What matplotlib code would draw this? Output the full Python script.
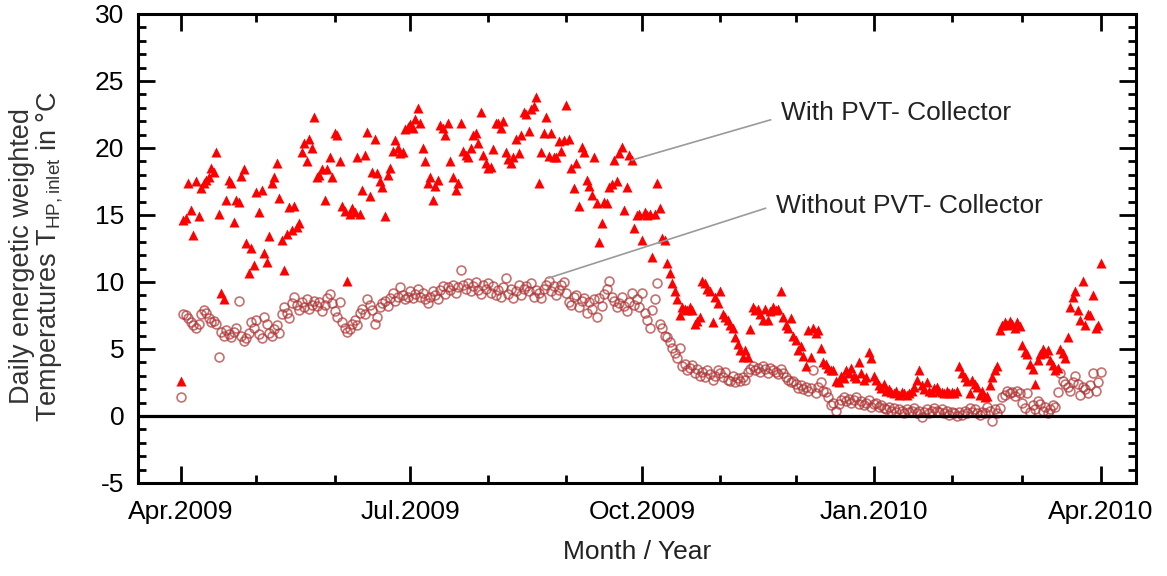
import numpy as np
import pandas as pd
import matplotlib
matplotlib.use("Agg")
import matplotlib.pyplot as plt
import matplotlib.dates as mdates
from matplotlib.ticker import MultipleLocator

plt.rcParams['font.family'] = ['Liberation Sans', 'DejaVu Sans']
plt.rcParams['axes.unicode_minus'] = False
plt.rcParams['mathtext.fontset'] = 'custom'
plt.rcParams['mathtext.rm'] = 'Liberation Sans'
plt.rcParams['mathtext.it'] = 'Liberation Sans'

# daily values, 1 Apr 2009 .. 1 Apr 2010
with_apr = [2.6, 14.6, 14.8, 17.4, 15.4, 13.5, 17.5, 14.9, 17.0, 17.4,
            17.6, 17.8, 18.5, 18.2, 19.7, 15.1, 9.2, 8.7, 16.1, 17.6,
            17.4, 14.5, 16.1, 16.0, 17.9, 18.4, 12.9, 10.7, 12.5, 11.3]
with_may = [16.7, 15.2, 16.9, 12.2, 11.5, 13.4, 17.4, 17.8, 18.9, 16.3,
            13.1, 10.9, 13.6, 15.6, 13.9, 15.7, 14.1, 14.4, 19.7, 20.4,
            19.0, 20.7, 20.0, 22.3, 17.8, 18.0, 18.4, 16.1, 18.4, 19.3, 17.8]
with_jun = [21.1, 21.0, 19.0, 15.7, 15.3, 10.1, 15.1, 15.5, 15.2, 19.3,
            15.1, 16.9, 19.5, 21.2, 16.4, 18.2, 20.7, 18.1, 17.5, 17.1,
            14.9, 18.0, 18.5, 19.8, 20.6, 20.0, 19.6, 19.7, 21.4, 21.6]
with_jul = [21.8, 21.5, 22.2, 23.0, 21.9, 20.0, 19.0, 17.4, 17.8, 16.1,
            17.2, 17.6, 21.7, 21.5, 21.0, 21.9, 19.0, 17.8, 16.9, 17.4,
            21.9, 19.8, 19.5, 19.3, 20.0, 21.0, 21.1, 20.4, 22.7, 19.5, 18.9]
with_aug = [18.5, 18.6, 19.9, 21.9, 21.9, 21.5, 22.0, 19.7, 19.2, 18.9,
            19.3, 20.7, 19.6, 21.0, 22.7, 22.5, 21.3, 22.9, 23.1, 23.8,
            17.4, 19.7, 21.1, 22.3, 19.4, 21.1, 19.3, 19.3, 20.5, 19.8, 20.6]
with_sep = [23.2, 20.7, 18.5, 17.0, 18.9, 15.7, 20.1, 19.7, 17.6, 17.2,
            16.5, 19.3, 15.9, 13.0, 14.4, 16.0, 15.9, 17.1, 17.3, 19.1,
            17.5, 19.6, 20.1, 15.4, 17.1, 19.5, 19.1, 14.0, 15.0, 15.1]
with_oct = [13.1, 15.2, 15.0, 15.1, 11.9, 15.1, 17.4, 15.5, 13.3, 13.1,
            11.4, 10.7, 9.9, 9.3, 8.7, 7.5, 8.1, 8.0, 7.9, 8.1,
            7.9, 6.9, 7.1, 7.4, 10.1, 9.9, 9.5, 9.3, 7.0, 8.9, 8.4]
with_nov = [9.3, 7.6, 7.4, 7.2, 6.8, 6.6, 5.9, 5.4, 4.9, 4.4,
            4.9, 4.4, 6.5, 8.1, 7.9, 8.0, 7.6, 7.2, 8.0, 7.2,
            7.8, 8.1, 7.9, 8.0, 9.3, 7.4, 6.8, 6.6, 7.3, 6.0]
with_dec = [5.7, 4.9, 5.2, 4.5, 3.7, 6.4, 4.4, 6.6, 6.2, 6.4,
            5.1, 4.0, 3.9, 3.6, 3.4, 3.4, 2.6, 2.5, 3.0, 2.8,
            3.4, 3.2, 3.6, 3.0, 2.8, 4.0, 3.2, 2.7, 2.9, 4.8, 4.3]
with_jan = [3.0, 2.7, 2.3, 2.1, 2.4, 1.9, 2.0, 1.8, 1.7, 1.9,
            1.6, 1.8, 1.7, 1.6, 1.7, 1.9, 2.2, 2.7, 3.4, 2.3,
            2.0, 2.5, 1.9, 1.8, 2.1, 2.2, 1.9, 1.8, 1.7, 1.9, 1.7]
with_feb = [1.8, 1.7, 1.9, 3.7, 3.2, 2.9, 2.6, 1.7, 2.7, 2.4,
            2.2, 1.6, 1.9, 1.4, 1.5, 2.3, 2.9, 3.4, 3.7, 6.4,
            6.8, 7.0, 6.8, 7.1, 6.9, 6.6, 7.0, 6.7]
with_mar = [5.3, 4.8, 4.6, 3.9, 3.5, 2.4, 4.2, 4.6, 5.0, 4.7,
            4.9, 4.2, 3.8, 3.4, 3.6, 5.0, 4.7, 4.3, 5.9, 8.1,
            8.9, 9.3, 7.9, 7.2, 10.1, 6.8, 7.6, 7.5, 9.0, 6.6, 6.8, 11.4]

without_apr = [1.4, 7.6, 7.5, 7.3, 7.0, 6.8, 6.6, 6.9, 7.6, 7.9,
               7.7, 7.3, 7.0, 7.1, 6.9, 4.4, 6.3, 6.0, 6.4, 6.1,
               5.9, 6.3, 6.6, 8.6, 6.0, 5.6, 5.8, 6.2, 7.0, 6.6]
without_may = [7.2, 6.1, 5.8, 7.4, 6.9, 6.2, 6.0, 6.5, 6.8, 6.2,
               7.6, 8.1, 7.7, 7.3, 8.4, 8.9, 8.3, 7.9, 8.5, 8.1,
               8.7, 8.0, 8.3, 8.6, 8.2, 8.5, 7.8, 8.3, 8.8, 9.1, 8.4]
without_jun = [7.8, 7.4, 8.5, 7.0, 6.6, 6.3, 6.5, 6.9, 7.2, 6.8,
               7.7, 8.0, 7.6, 8.7, 8.3, 7.9, 6.9, 7.4, 8.1, 8.4,
               8.6, 8.2, 8.8, 9.2, 8.6, 8.9, 9.6, 9.0, 8.7, 8.9]
without_jul = [9.3, 8.8, 9.1, 9.5, 8.9, 9.2, 8.7, 8.4, 8.9, 9.3,
               9.0, 8.7, 9.4, 9.7, 9.1, 9.6, 9.4, 9.8, 9.2, 9.6,
               10.9, 9.8, 9.5, 9.9, 9.3, 9.7, 10.0, 9.4, 9.1, 9.8, 9.5]
without_aug = [9.9, 9.2, 9.7, 9.0, 9.4, 8.9, 9.6, 10.3, 9.1, 9.5,
               8.8, 9.3, 9.8, 9.0, 9.5, 9.7, 9.3, 9.9, 8.9, 9.4,
               9.2, 8.8, 9.5, 9.8, 10.1, 9.3, 9.7, 9.0, 9.4, 9.8, 10.0]
without_sep = [9.2, 8.5, 8.3, 8.9, 9.0, 8.1, 8.6, 8.8, 7.7, 8.5,
               8.0, 8.7, 7.4, 8.8, 8.2, 9.1, 9.5, 10.1, 8.9, 8.6,
               8.1, 8.4, 8.9, 8.2, 7.8, 8.5, 9.2, 8.3, 8.7, 8.1]
without_oct = [9.2, 7.7, 7.2, 6.6, 7.9, 8.7, 9.9, 6.9, 6.6, 6.0,
               5.9, 5.5, 5.1, 4.7, 4.3, 5.1, 3.7, 3.9, 3.4, 3.6,
               3.8, 3.2, 3.5, 3.0, 3.3, 2.9, 3.4, 3.1, 2.7, 3.0, 3.4]
without_nov = [3.2, 2.9, 3.3, 2.7, 2.6, 3.0, 2.5, 2.8, 2.6, 2.9,
               2.7, 3.3, 3.5, 3.7, 3.4, 3.6, 3.3, 3.7, 3.5, 3.2,
               3.6, 3.4, 3.3, 3.1, 3.5, 3.2, 2.9, 2.7, 2.5, 2.6]
without_dec = [2.4, 2.1, 2.3, 2.0, 2.2, 1.9, 2.1, 3.4, 1.7, 2.2,
               2.5, 1.9, 1.8, 1.4, 0.8, 1.0, 0.4, 0.9, 1.2, 1.4,
               1.1, 1.3, 1.0, 1.2, 1.4, 0.9, 1.1, 0.8, 1.0, 1.2, 0.7]
without_jan = [0.9, 1.0, 0.7, 0.8, 0.6, 0.5, 0.7, 0.4, 0.6, 0.3,
               0.5, 0.4, 0.2, 0.5, 0.3, 0.4, 0.6, 0.2, 0.4, -0.1,
               0.3, 0.5, 0.2, 0.4, 0.6, 0.4, 0.3, 0.5, 0.2, 0.4, 0.1]
without_feb = [0.3, 0.2, 0.0, 0.3, 0.1, 0.4, 0.2, 0.6, 0.3, 0.5,
               0.2, 0.1, 0.3, 0.2, 0.7, 0.4, -0.4, 0.5, 0.2, 0.6,
               1.4, 1.6, 1.9, 1.7, 1.8, 1.5, 1.9, 1.7]
without_mar = [1.0, 0.6, 1.7, 0.3, 0.8, 0.5, 1.1, 0.9, 0.4, 0.7,
               0.2, 0.5, 0.8, 0.7, 1.8, 3.2, 2.6, 2.4, 2.2, 1.9,
               2.5, 3.0, 2.4, 1.6, 2.2, 2.0, 1.7, 2.3, 3.2, 1.9, 2.5, 3.3]

with_pvt = np.array(with_apr + with_may + with_jun + with_jul + with_aug + with_sep
                    + with_oct + with_nov + with_dec + with_jan + with_feb + with_mar)
without_pvt = np.array(without_apr + without_may + without_jun + without_jul + without_aug
                       + without_sep + without_oct + without_nov + without_dec
                       + without_jan + without_feb + without_mar)
days = pd.date_range("2009-04-01", periods=len(with_pvt), freq="D")

tick_dates = ["2009-04-01", "2009-07-01", "2009-10-01", "2010-01-01", "2010-04-01"]
tick_labels = ["Apr.2009", "Jul.2009", "Oct.2009", "Jan.2010", "Apr.2010"]

fig = plt.figure(figsize=(11.67, 5.76), dpi=100)
ax = fig.add_axes([0.1183, 0.1615, 0.855, 0.8142])

ax.plot(days, without_pvt, linestyle="none", marker="o", ms=6.4, mfc="none",
        mec="#b03535", mew=1.2, alpha=0.7)
ax.plot(days, with_pvt, linestyle="none", marker="^", ms=7.6, color="#ff0000",
        mec="none")
ax.axhline(0, color="black", lw=2.3)

ax.set_xlim(pd.Timestamp("2009-03-15"), pd.Timestamp("2010-04-15"))
ax.set_ylim(-5, 30)
ax.yaxis.set_major_locator(MultipleLocator(5))
ax.yaxis.set_minor_locator(MultipleLocator(1))
ax.set_xticks([pd.Timestamp(d) for d in tick_dates])
ax.set_xticklabels(tick_labels)
ax.xaxis.set_minor_locator(mdates.MonthLocator())

ax.tick_params(which="both", direction="in", top=True, right=True, width=2,
               labelsize=19)
ax.tick_params(which="major", length=12)
ax.tick_params(which="minor", length=6)
ax.tick_params(axis="x", which="major", pad=12)
ax.tick_params(axis="y", which="major", pad=10)
for s in ax.spines.values():
    s.set_linewidth(2.2)

ax.set_xlabel("Month / Year", fontsize=19, color="#222222", labelpad=12)
fig.text(37 / 1167, 1 - 256 / 576,
         "Daily energetic weighted\nTemperatures T$_{\\mathrm{HP,inlet}}$ in °C",
         rotation=90, ha="center", va="center", multialignment="center",
         fontsize=19.5, color="#333333", linespacing=1.0)

# callout labels with grey leader lines
ax.plot([pd.Timestamp("2009-09-27"), pd.Timestamp("2009-11-21")], [19.1, 22.1],
        color="#9a9a9a", lw=1.2)
ax.text(pd.Timestamp("2009-11-25"), 22.6, "With PVT- Collector", fontsize=19,
        color="#222222", va="center", ha="left")
ax.plot([pd.Timestamp("2009-08-25"), pd.Timestamp("2009-11-19")], [10.3, 15.5],
        color="#9a9a9a", lw=1.2)
ax.text(pd.Timestamp("2009-11-23"), 15.7, "Without PVT- Collector", fontsize=19,
        color="#222222", va="center", ha="left")

plt.savefig("out.png", dpi=100)
